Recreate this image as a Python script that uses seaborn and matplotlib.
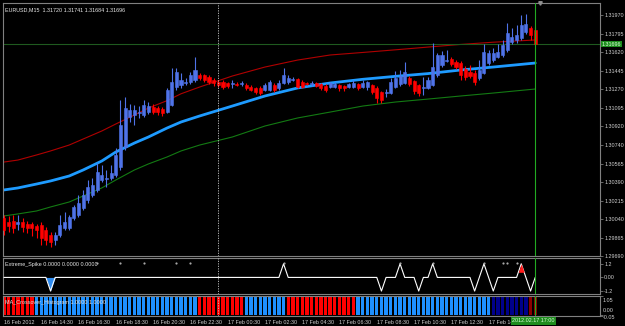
import matplotlib
matplotlib.use('Agg')
import matplotlib.pyplot as plt
import numpy as np
import pandas as pd
import seaborn as sns

# EURUSD M15, bar 0 = 16 Feb 2012 12:30
opens = [1.30050, 1.30012, 1.30021, 1.29993, 1.30012, 1.29993, 1.29993, 1.29974, 1.29983, 1.29936,
         1.29889, 1.29842, 1.29889, 1.29955, 1.29955, 1.30050, 1.30078, 1.30144, 1.30220, 1.30267,
         1.30315, 1.30409, 1.30419, 1.30428, 1.30456, 1.30532, 1.30721, 1.31005, 1.31024, 1.31043,
         1.31024, 1.31052, 1.31100, 1.31090, 1.31081, 1.31052, 1.31119, 1.31289, 1.31308, 1.31327,
         1.31336, 1.31355, 1.31402, 1.31402, 1.31384, 1.31355, 1.31336, 1.31336, 1.31327, 1.31317,
         1.31317, 1.31317, 1.31308, 1.31289, 1.31280, 1.31280, 1.31261, 1.31261, 1.31308, 1.31280,
         1.31327, 1.31336, 1.31355, 1.31365, 1.31336, 1.31327, 1.31317, 1.31327, 1.31317, 1.31298,
         1.31289, 1.31289, 1.31308, 1.31298, 1.31289, 1.31289, 1.31317, 1.31289, 1.31289, 1.31308,
         1.31280, 1.31242, 1.31232, 1.31232, 1.31289, 1.31317, 1.31327, 1.31374, 1.31346, 1.31308,
         1.31280, 1.31280, 1.31308, 1.31402, 1.31497, 1.31535, 1.31554, 1.31525, 1.31516, 1.31459,
         1.31431, 1.31421, 1.31374, 1.31421, 1.31516, 1.31544, 1.31573, 1.31592, 1.31639, 1.31715,
         1.31734, 1.31753, 1.31809, 1.31847, 1.31828]
highs = [1.30078, 1.30069, 1.30078, 1.30078, 1.30050, 1.30021, 1.30012, 1.29993, 1.30012, 1.29965,
         1.29917, 1.29917, 1.30078, 1.30106, 1.30078, 1.30173, 1.30267, 1.30315, 1.30409, 1.30428,
         1.30570, 1.30551, 1.30504, 1.30551, 1.30712, 1.31166, 1.31194, 1.31128, 1.31119, 1.31109,
         1.31166, 1.31147, 1.31128, 1.31109, 1.31100, 1.31280, 1.31469, 1.31469, 1.31421, 1.31374,
         1.31431, 1.31573, 1.31421, 1.31412, 1.31402, 1.31374, 1.31355, 1.31355, 1.31336, 1.31355,
         1.31336, 1.31346, 1.31327, 1.31308, 1.31289, 1.31298, 1.31327, 1.31355, 1.31327, 1.31355,
         1.31469, 1.31402, 1.31384, 1.31374, 1.31355, 1.31336, 1.31346, 1.31336, 1.31327, 1.31317,
         1.31336, 1.31336, 1.31317, 1.31308, 1.31327, 1.31355, 1.31327, 1.31355, 1.31346, 1.31317,
         1.31298, 1.31251, 1.31270, 1.31374, 1.31440, 1.31450, 1.31525, 1.31393, 1.31355, 1.31317,
         1.31384, 1.31384, 1.31705, 1.31611, 1.31630, 1.31639, 1.31573, 1.31544, 1.31535, 1.31488,
         1.31497, 1.31450, 1.31544, 1.31696, 1.31639, 1.31658, 1.31696, 1.31734, 1.31894, 1.31847,
         1.31875, 1.31970, 1.31980, 1.31866, 1.31857]
lows = [1.29889, 1.29917, 1.29908, 1.29936, 1.29917, 1.29908, 1.29879, 1.29861, 1.29794, 1.29794,
        1.29775, 1.29794, 1.29870, 1.29936, 1.29936, 1.30031, 1.30059, 1.30125, 1.30192, 1.30248,
        1.30296, 1.30390, 1.30343, 1.30409, 1.30438, 1.30504, 1.30693, 1.30958, 1.30929, 1.30996,
        1.31005, 1.31034, 1.31034, 1.31024, 1.31015, 1.31043, 1.31109, 1.31261, 1.31280, 1.31308,
        1.31317, 1.31336, 1.31355, 1.31336, 1.31317, 1.31298, 1.31289, 1.31270, 1.31280, 1.31280,
        1.31298, 1.31298, 1.31261, 1.31251, 1.31223, 1.31213, 1.31251, 1.31251, 1.31242, 1.31261,
        1.31317, 1.31317, 1.31346, 1.31280, 1.31280, 1.31308, 1.31298, 1.31289, 1.31261, 1.31242,
        1.31280, 1.31280, 1.31251, 1.31251, 1.31280, 1.31280, 1.31261, 1.31280, 1.31261, 1.31223,
        1.31138, 1.31138, 1.31194, 1.31223, 1.31280, 1.31298, 1.31317, 1.31298, 1.31223, 1.31204,
        1.31213, 1.31270, 1.31298, 1.31384, 1.31478, 1.31525, 1.31488, 1.31459, 1.31355, 1.31355,
        1.31374, 1.31308, 1.31355, 1.31412, 1.31497, 1.31525, 1.31563, 1.31573, 1.31620, 1.31696,
        1.31705, 1.31734, 1.31790, 1.31734, 1.31686]
closes = [1.29936, 1.29974, 1.29955, 1.30012, 1.29965, 1.29955, 1.29955, 1.29936, 1.29861, 1.29842,
          1.29823, 1.29889, 1.29983, 1.30012, 1.30059, 1.30154, 1.30192, 1.30267, 1.30343, 1.30362,
          1.30485, 1.30456, 1.30428, 1.30475, 1.30646, 1.30929, 1.31090, 1.31071, 1.31071, 1.31052,
          1.31119, 1.31109, 1.31052, 1.31052, 1.31043, 1.31261, 1.31336, 1.31431, 1.31355, 1.31336,
          1.31402, 1.31450, 1.31374, 1.31355, 1.31336, 1.31327, 1.31308, 1.31289, 1.31298, 1.31327,
          1.31308, 1.31327, 1.31280, 1.31261, 1.31242, 1.31232, 1.31308, 1.31336, 1.31261, 1.31327,
          1.31402, 1.31374, 1.31365, 1.31289, 1.31289, 1.31317, 1.31327, 1.31298, 1.31280, 1.31261,
          1.31327, 1.31317, 1.31280, 1.31280, 1.31317, 1.31327, 1.31280, 1.31327, 1.31336, 1.31242,
          1.31185, 1.31166, 1.31242, 1.31336, 1.31374, 1.31393, 1.31431, 1.31317, 1.31251, 1.31232,
          1.31289, 1.31355, 1.31478, 1.31592, 1.31592, 1.31544, 1.31507, 1.31478, 1.31402, 1.31384,
          1.31393, 1.31336, 1.31450, 1.31620, 1.31611, 1.31611, 1.31620, 1.31686, 1.31800, 1.31762,
          1.31781, 1.31875, 1.31885, 1.31781, 1.31696]

# moving average + envelopes, read at these bar indices
ma_knots = [0, 3, 7, 10, 14, 17, 21, 24, 28, 31, 35, 38, 42, 49, 56, 63, 70, 77, 84, 91, 98, 105, 114]
ma_mid = [1.30315, 1.30334, 1.30371, 1.30400, 1.30447, 1.30504, 1.30589, 1.30674, 1.30759, 1.30816,
          1.30901, 1.30958, 1.31015, 1.31109, 1.31204, 1.31280, 1.31327, 1.31362, 1.31390, 1.31416,
          1.31450, 1.31478, 1.31516]
ma_upper = [1.30579, 1.30598, 1.30646, 1.30684, 1.30740, 1.30797, 1.30873, 1.30939, 1.31024, 1.31090,
            1.31160, 1.31225, 1.31289, 1.31393, 1.31478, 1.31544, 1.31592, 1.31616, 1.31641, 1.31667,
            1.31692, 1.31713, 1.31734]
ma_lower = [1.30069, 1.30088, 1.30116, 1.30154, 1.30201, 1.30258, 1.30334, 1.30409, 1.30504, 1.30561,
            1.30627, 1.30684, 1.30740, 1.30816, 1.30920, 1.30996, 1.31052, 1.31109, 1.31147, 1.31175,
            1.31204, 1.31232, 1.31270]

price_ticks = ['1.31970', '1.31795', '1.31620', '1.31445', '1.31270', '1.31095', '1.30920',
               '1.30740', '1.30565', '1.30390', '1.30215', '1.30040', '1.29865', '1.29690']
last_price = 1.31696
header = 'EURUSD,M15  1.31720 1.31741 1.31684 1.31696'

# Extreme_Spike indicator (0 elsewhere)
spike_idx = [10, 60, 81, 85, 89, 92, 101, 103, 105, 111, 113]
spike_val = [-1.2, 1.2, -1.2, 1.2, -1.2, 1.2, -1.2, 1.2, -1.2, 1.2, -1.2]
dot_idx = [20, 25, 30, 37, 40, 60, 85, 92, 103, 107, 108, 110]
dot_val = 1.3

# MA_Crossover_Histogram: runs of (state, bars), value 1.0 everywhere
hist_runs = [('up_red', 7), ('blue', 35), ('up_red', 10), ('blue', 9), ('up_red', 15),
             ('blue', 29), ('navy', 8), ('maroon', 2)]
hist_value = 1.0
hist_scale = ['1.05', '0.00', '-0.05']

time_pos = [0, 8, 16, 24, 32, 40, 48, 56, 64, 72, 80, 88, 96, 104]
time_labels = ['16 Feb 2012', '16 Feb 14:30', '16 Feb 16:30', '16 Feb 18:30', '16 Feb 20:30',
               '16 Feb 22:30', '17 Feb 00:30', '17 Feb 02:30', '17 Feb 04:30', '17 Feb 06:30',
               '17 Feb 08:30', '17 Feb 10:30', '17 Feb 12:30', '17 Feb 14:30']
day_sep = 46
cursor_bar = 113.85
cursor_time = '2012.02.17 17:00'

sns.set_style("dark", rc={"axes.facecolor": "black", "figure.facecolor": "black",
                          "axes.edgecolor": "#808080", "axes.grid": False,
                          "xtick.color": "#909090", "ytick.color": "#909090",
                          "text.color": "#d8d8d8"})
plt.rcParams['font.family'] = ['Liberation Sans', 'DejaVu Sans']
FS = 3.9
LBL = '#d0d0d0'
BULL, BEAR = '#4f73e8', '#ff0000'
hist_palette = {'up_red': '#ff0000', 'blue': '#1e90ff', 'navy': '#00008b', 'maroon': '#8b0000'}

df = pd.DataFrame({'open': opens, 'high': highs, 'low': lows, 'close': closes})
df['idx'] = np.arange(len(df))
candle_col = np.where(df['close'] >= df['open'], BULL, BEAR)

W, H = 625, 326
fig = plt.figure(figsize=(W / 100, H / 100), dpi=100)

def px_axes(top, bottom):
    return fig.add_axes([3 / W, 1 - bottom / H, 597 / W, (bottom - top) / H])

ax = px_axes(3, 256)
ax_s = px_axes(258, 294)
ax_h = px_axes(296, 316)
xlim = (-0.2, 127.9)

# main chart
sns.lineplot(x=ma_knots, y=ma_upper, color='#b00000', lw=0.8, ax=ax)
sns.lineplot(x=ma_knots, y=ma_lower, color='#137a13', lw=0.8, ax=ax)
sns.lineplot(x=ma_knots, y=ma_mid, color='#1e9bff', lw=2.0, ax=ax)
ax.vlines(df['idx'], df['low'], df['high'], colors=candle_col, lw=0.8, zorder=3)
ax.bar(df['idx'], df['close'] - df['open'], bottom=df['open'], width=0.66,
       color=candle_col, edgecolor=candle_col, linewidth=0.4, zorder=3)
ax.axhline(last_price, color='#1f5a1f', lw=0.8, zorder=2)
ax.set_xlim(*xlim)
ax.set_ylim(1.29690, 1.32084)
ax.set_yticks([float(t) for t in price_ticks])
ax.set_yticklabels(price_ticks)
ax.set_xticks([])
ax.text(0.004, 0.985, header, transform=ax.transAxes, va='top', ha='left', fontsize=FS, color='#e8e8e8')
ax.text(1.003, last_price, f'{last_price:.5f}', transform=ax.get_yaxis_transform(), va='center',
        ha='left', fontsize=FS, color='#d8ffd8',
        bbox=dict(boxstyle='square,pad=0.15', fc='#1e8c1e', ec='none'), clip_on=False, zorder=6)
ax.plot([115], [1.32084], marker='v', color='#909090', ms=2.5, clip_on=False, zorder=6)

# spike panel
spike = np.zeros(len(df))
spike[spike_idx] = spike_val
blue_part = slice(spike_idx[0] - 1, spike_idx[0] + 2)
ax_s.fill_between(df['idx'][blue_part], spike[blue_part], 0, color='#2f8cf0', lw=0)
red_part = slice(spike_idx[-2] - 1, spike_idx[-2] + 2)
ax_s.fill_between(df['idx'][red_part], spike[red_part], 0.45, where=spike[red_part] >= 0.45,
                  color='#ff1a1a', lw=0, interpolate=True, zorder=4)
sns.lineplot(x=df['idx'], y=spike, color='white', lw=0.8, ax=ax_s, zorder=3)
ax_s.scatter(dot_idx, [dot_val] * len(dot_idx), s=2.5, color='#a8a8a8', zorder=5, lw=0)
ax_s.set_xlim(*xlim)
ax_s.set_ylim(-1.46, 1.71)
ax_s.set_yticks([1.2, 0.0, -1.2])
ax_s.set_yticklabels(['1.2', '0.00', '-1.2'])
ax_s.set_xticks([])
ax_s.set_ylabel('')
ax_s.text(0.004, 0.9, 'Extreme_Spike 0.0000 0.0000 0.0000', transform=ax_s.transAxes,
          va='top', ha='left', fontsize=FS, color='#e8e8e8')

# histogram panel
hist_colors = sum([[hist_palette[s]] * n for s, n in hist_runs], [])
ax_h.bar(df['idx'], [hist_value] * len(df), width=0.72, color=hist_colors, lw=0)
ax_h.set_xlim(*xlim)
ax_h.set_ylim(-0.05, 1.05)
ax_h.set_yticks([float(v) for v in hist_scale])
ax_h.set_yticklabels([])
# scale labels squeezed into the 20px panel, as the terminal draws them
for txt, ypx in zip(hist_scale, [300.5, 310.5, 317.5]):
    fig.text(603 / W, 1 - ypx / H, txt, va='center', ha='left', fontsize=FS, color=LBL)
ax_h.set_xticks(time_pos)
ax_h.set_xticklabels(time_labels, ha='left')
ax_h.text(0.004, 0.8, 'MA_Crossover_Histogram 1.0000 1.0000', transform=ax_h.transAxes,
          va='top', ha='left', fontsize=FS, color='#e0e0e0', zorder=5)

for a in (ax, ax_s, ax_h):
    a.yaxis.tick_right()
    a.tick_params(axis='y', which='both', direction='out', length=2, width=0.5, pad=1,
                  labelsize=FS, labelcolor=LBL, left=False, right=True)
    a.tick_params(axis='x', direction='out', length=2, width=0.5, pad=1, labelsize=FS,
                  labelcolor=LBL)
    a.axvline(day_sep, color='#c8c8c8', lw=0.6, ls=(0, (1.5, 1.5)), zorder=4)
    a.axvline(cursor_bar, color='#22aa22', lw=0.8, zorder=7)
    for sp in a.spines.values():
        sp.set_color('#808080')
        sp.set_linewidth(0.8)

fig.text(512 / W, 1 - 321 / H, cursor_time, va='center', ha='left', fontsize=FS, color='#d8ffd8',
         bbox=dict(boxstyle='square,pad=0.2', fc='#1e8c1e', ec='none'), zorder=8)

fig.savefig('out.png', dpi=100, facecolor='black')
